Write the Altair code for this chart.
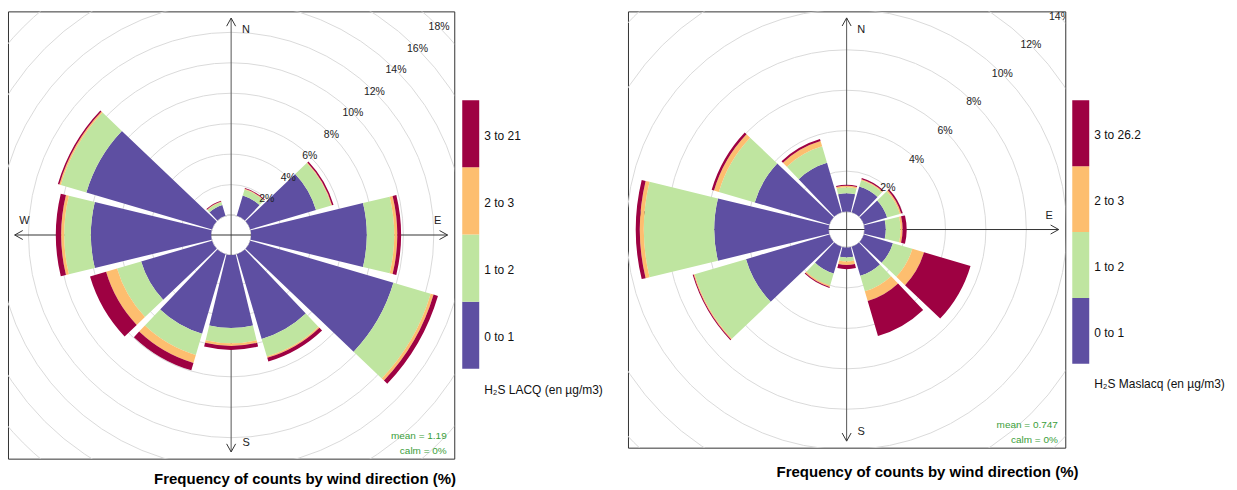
import altair as alt
import pandas as pd

# ---------------- data ----------------
DIRECTIONS = [0, 30, 60, 90, 120, 150, 180, 210, 240, 270, 300, 330]
COLOURS = ["#5E4FA2", "#BFE5A0", "#FDBE6F", "#9E0142"]

# Left rose : H2S LACQ, frequency (%) per direction for each concentration band
LACQ_BANDS = ["0 to 1", "1 to 2", "2 to 3", "3 to 21"]
LACQ_0_1 = [0, 1.4, 4.5, 7.6, 9.8, 5.8, 4.8, 5.45, 4.85, 7.9, 8.6, 0.75]
LACQ_1_2 = [0, 0.4, 1.05, 1.8, 2.55, 1.2, 1.0, 1.45, 1.65, 1.75, 1.75, 0.2]
LACQ_2_3 = [0, 0.05, 0.05, 0.2, 0.2, 0.1, 0.17, 0.55, 0.75, 0.2, 0.1, 0.04]
LACQ_3_UP = [0, 0.05, 0.1, 0.25, 0.3, 0.25, 0.26, 0.5, 1.1, 0.35, 0.1, 0.05]
LACQ_GRID = [2, 4, 6, 8, 10, 12, 14, 16, 18]
LACQ_TITLE = "H\u2082S LACQ (en \u00b5g/m3)"
LACQ_MEAN = "mean = 1.19"

# Right rose : H2S Maslacq
MAS_BANDS = ["0 to 1", "1 to 2", "2 to 3", "3 to 26.2"]
MAS_0_1 = [0.9, 1.33, 1.2, 1.05, 1.5, 1.5, 0.5, 1.38, 4.3, 5.66, 3.85, 2.55]
MAS_1_2 = [0.3, 0.32, 0.65, 0.73, 1.0, 0.8, 0.19, 0.62, 2.65, 3.48, 1.85, 0.85]
MAS_2_3 = [0.08, 0.05, 0.07, 0.1, 0.6, 0.5, 0.17, 0.07, 0.05, 0.2, 0.25, 0.28]
MAS_3_UP = [0.05, 0.07, 0.08, 0.2, 2.4, 1.8, 0.21, 0.05, 0.05, 0.2, 0.12, 0.1]
MAS_GRID = [2, 4, 6, 8, 10, 12, 14]
MAS_TITLE = "H\u2082S Maslacq (en \u00b5g/m3)"
MAS_MEAN = "mean = 0.747"

CALM = "calm = 0%"
MAIN_TITLE = "Frequency of counts by wind direction (%)"
COMPASS = ["N", "E", "S", "W"]

# ---------------- styling / layout constants ----------------
FONT = "Liberation Sans"
HALF_WIDTH = 13.6     # half angular width of a sector (deg)
AX = 0.97             # arrow tip, fraction of half panel
XS = alt.Scale(domain=[-1, 1])
YS = alt.Scale(domain=[-1, 1])
TS = alt.Scale(domain=[0, 360], range=[0, 6.283185307179586])


def rose(series, bands, grid, rmax, r0, r1, w, h, mean_txt, title_dx, title_offset, west_arrow=True):
    RS = alt.Scale(type="linear", domain=[0, rmax], range=[r0, r1])

    rows = []
    for i, d in enumerate(DIRECTIONS):
        cum = 0.0
        for b, vals in enumerate(series):
            v = vals[i]
            if v > 0:
                rows.append({"dir": d, "band": bands[b], "lo": cum, "hi": cum + v})
            cum += v
    bars_df = pd.DataFrame(rows)

    grid_df = pd.DataFrame({"pct": grid, "label": [f"{g}%" for g in grid]})

    gridlines = (
        alt.Chart(grid_df)
        .transform_calculate(a0="0", a1="360")
        .mark_arc(filled=False, stroke="#dadada", strokeWidth=1, clip=True)
        .encode(
            theta=alt.Theta("a0:Q", scale=TS),
            theta2="a1:Q",
            radius=alt.Radius("pct:Q", scale=RS),
        )
    )

    west = -AX if west_arrow else -0.8
    one = pd.DataFrame({"k": [0]})
    vline = alt.Chart(one).mark_rule(color="#555555", strokeWidth=1).encode(
        x=alt.XDatum(0, scale=XS, axis=None),
        y=alt.YDatum(-AX, scale=YS, axis=None),
        y2=alt.Y2Datum(AX),
    )
    hline = alt.Chart(one).mark_rule(color="#333333", strokeWidth=1).encode(
        y=alt.YDatum(0, scale=YS, axis=None),
        x=alt.XDatum(west, scale=XS, axis=None),
        x2=alt.X2Datum(AX),
    )
    ax_x = [0, AX, 0, -AX]
    ax_y = [AX, 0, -AX, 0]
    ax_a = [0, 90, 180, 270]
    n_arrows = 4 if west_arrow else 3
    arrow_df = pd.DataFrame({"x": ax_x[:n_arrows], "y": ax_y[:n_arrows], "ang": ax_a[:n_arrows]})
    arrows = alt.Chart(arrow_df).mark_point(
        shape="M-0.5,0.9L0,0L0.5,0.9", size=324, filled=False,
        stroke="#333333", strokeWidth=1, opacity=1,
    ).encode(
        x=alt.X("x:Q", scale=XS, axis=None),
        y=alt.Y("y:Q", scale=YS, axis=None),
        angle=alt.Angle("ang:Q", scale=None),
    )
    compass_df = pd.DataFrame(
        {"lab": COMPASS, "x": [0.067, 0.926, 0.067, -0.926], "y": [0.915, 0.0625, -0.93, 0.0625]}
    )
    compass = alt.Chart(compass_df).mark_text(
        fontSize=11, font=FONT, color="#222222", align="center", baseline="middle"
    ).encode(
        x=alt.X("x:Q", scale=XS, axis=None),
        y=alt.Y("y:Q", scale=YS, axis=None),
        text="lab:N",
    )

    bars = (
        alt.Chart(bars_df)
        .transform_calculate(t1=f"datum.dir - {HALF_WIDTH}", t2=f"datum.dir + {HALF_WIDTH}")
        .mark_arc(strokeWidth=0)
        .encode(
            theta=alt.Theta("t1:Q", scale=TS),
            theta2="t2:Q",
            radius=alt.Radius("hi:Q", scale=RS),
            radius2="lo:Q",
            color=alt.Color("band:N", scale=alt.Scale(domain=bands, range=COLOURS), legend=None),
        )
    )

    pct_labels = (
        alt.Chart(grid_df)
        .transform_calculate(a="45")
        .mark_text(fontSize=10.5, font=FONT, color="#222222", align="center", baseline="middle", clip=True)
        .encode(
            theta=alt.Theta("a:Q", scale=TS),
            radius=alt.Radius("pct:Q", scale=RS),
            text="label:N",
        )
    )

    stats_df = pd.DataFrame({"t": [mean_txt, CALM], "x": [0.966, 0.966], "y": [-0.897, -0.964]})
    stats = alt.Chart(stats_df).mark_text(
        fontSize=10, font=FONT, color="#3a9e3a", align="right", baseline="middle"
    ).encode(
        x=alt.X("x:Q", scale=XS, axis=None),
        y=alt.Y("y:Q", scale=YS, axis=None),
        text="t:N",
    )

    return alt.layer(
        gridlines, vline, hline, arrows, compass, bars, pct_labels, stats
    ).properties(
        width=w,
        height=h,
        view=alt.ViewBackground(stroke="#333333", strokeWidth=1),
        title=alt.Title(
            MAIN_TITLE, orient="bottom", anchor="middle", frame="group",
            fontSize=15, fontWeight="bold", font=FONT, color="#000000",
            dx=title_dx, offset=title_offset, baseline="top",
        ),
    )


def legend(bands, title, w, h, bar_x0, bar_x1, y_top, y_bottom, title_y):
    df = pd.DataFrame({"band": bands, "i": list(range(len(bands)))})
    base = alt.Chart(df).transform_calculate(i2="datum.i + 1", mid="datum.i + 0.5")
    YL = alt.Scale(domain=[0, len(bands)], range=[y_bottom, y_top])
    rects = base.mark_rect().encode(
        x=alt.value(bar_x0),
        x2=alt.value(bar_x1),
        y=alt.Y("i:Q", scale=YL, axis=None),
        y2="i2:Q",
        color=alt.Color("band:N", scale=alt.Scale(domain=bands, range=COLOURS), legend=None),
    )
    labels = base.mark_text(
        fontSize=12, font=FONT, color="#111111", align="left", baseline="middle", dy=2
    ).encode(
        x=alt.value(bar_x1 + 5),
        y=alt.Y("mid:Q", scale=YL, axis=None),
        text="band:N",
    )
    ttl = alt.Chart(pd.DataFrame({"t": [title]})).mark_text(
        fontSize=12, font=FONT, color="#111111", align="left", baseline="middle"
    ).encode(x=alt.value(bar_x1 + 5), y=alt.value(title_y), text="t:N")
    return alt.layer(rects, labels, ttl).properties(
        width=w, height=h, view=alt.ViewBackground(stroke="transparent")
    )


left = rose([LACQ_0_1, LACQ_1_2, LACQ_2_3, LACQ_3_UP], LACQ_BANDS, LACQ_GRID,
            18, 20, 294.5, 447, 448, LACQ_MEAN, 74, 13)
left_leg = legend(LACQ_BANDS, LACQ_TITLE, 174, 448, 8, 25, 89, 358, 379)
right = rose([MAS_0_1, MAS_1_2, MAS_2_3, MAS_3_UP], MAS_BANDS, MAS_GRID,
             14, 18, 301.5, 438, 437, MAS_MEAN, 81, 17, west_arrow=False)
right_leg = legend(MAS_BANDS, MAS_TITLE, 171, 437, 7, 24, 89, 353, 373)

chart = (
    alt.hconcat(left, left_leg, right, right_leg, spacing=0, bounds="flush")
    .resolve_scale(color="independent")
    .properties(padding={"left": 7, "top": 10, "right": 0, "bottom": 0})
    .configure(font=FONT)
    .configure_view(stroke="transparent")
)

chart.save("out.html", embed_options={"renderer": "svg", "actions": False})
